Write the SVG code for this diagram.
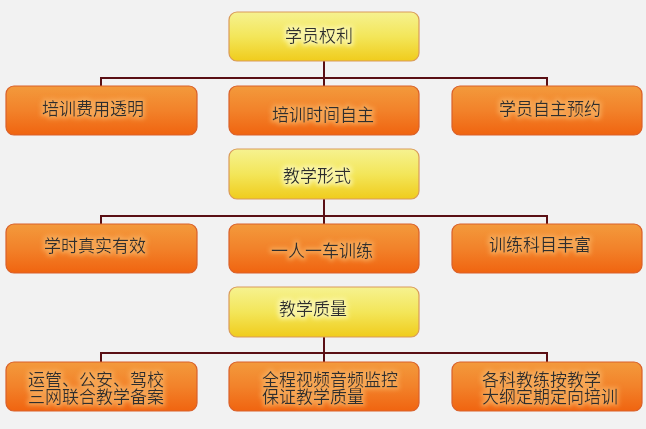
<svg xmlns="http://www.w3.org/2000/svg" width="646" height="429" viewBox="0 0 646 429">
<defs>
<linearGradient id="gy" x1="0" y1="0" x2="0" y2="1">
<stop offset="0" stop-color="#f6f290"/>
<stop offset="0.5" stop-color="#f3e65a"/>
<stop offset="1" stop-color="#f0cc1c"/>
</linearGradient>
<linearGradient id="go" x1="0" y1="0" x2="0" y2="1">
<stop offset="0" stop-color="#f39a3c"/>
<stop offset="0.5" stop-color="#f2822a"/>
<stop offset="1" stop-color="#f06410"/>
</linearGradient>
<filter id="glowY" x="-10%" y="-30%" width="120%" height="160%">
<feMorphology in="SourceAlpha" operator="dilate" radius="1.5" result="d"/>
<feGaussianBlur in="d" stdDeviation="2" result="b"/>
<feFlood flood-color="#fbf7b0" flood-opacity="0.9"/>
<feComposite in2="b" operator="in" result="g"/>
<feMerge><feMergeNode in="g"/><feMergeNode in="SourceGraphic"/></feMerge>
</filter>
<filter id="glowO" x="-10%" y="-30%" width="120%" height="160%">
<feMorphology in="SourceAlpha" operator="dilate" radius="1.5" result="d"/>
<feGaussianBlur in="d" stdDeviation="2" result="b"/>
<feFlood flood-color="#f8b060" flood-opacity="0.8"/>
<feComposite in2="b" operator="in" result="g"/>
<feMerge><feMergeNode in="g"/><feMergeNode in="SourceGraphic"/></feMerge>
</filter>
</defs>
<style>
.y{fill:url(#gy);stroke:#d99a5a;stroke-width:1.2}
.o{fill:url(#go);stroke:#d9602a;stroke-width:1.2}
text{font-family:"Noto Sans CJK SC","Noto Sans",sans-serif;font-size:17px;fill:#2e2e2e}
.ty{filter:url(#glowY)}
.to{filter:url(#glowO)}
.c{fill:none;stroke:#5a0f14;stroke-width:2}
</style>
<rect x="0" y="0" width="646" height="429" fill="#f2f2f2"/>
<g id="connectors">
<path class="c" d="M324 61V86M101 86V78H547V86"/>
<path class="c" d="M324 199V224M101 224V216H547V224"/>
<path class="c" d="M324 337V362M101 362V353H547V362"/>
</g>
<g id="n-xueyuanquanli"><rect class="y" x="229" y="12" width="190" height="49" rx="8"/><text class="ty" x="319" y="41.5" text-anchor="middle">学员权利</text></g>
<g id="n-feiyong"><rect class="o" x="6" y="86" width="191" height="49" rx="8"/><text class="to" x="93" y="114.5" text-anchor="middle">培训费用透明</text></g>
<g id="n-shijian"><rect class="o" x="229" y="86" width="190" height="49" rx="8"/><text class="to" x="323" y="120.5" text-anchor="middle">培训时间自主</text></g>
<g id="n-yuyue"><rect class="o" x="452" y="86" width="190" height="49" rx="8"/><text class="to" x="550" y="114.5" text-anchor="middle">学员自主预约</text></g>
<g id="n-jiaoxuexingshi"><rect class="y" x="229" y="149" width="190" height="50" rx="8"/><text class="ty" x="317" y="181.5" text-anchor="middle">教学形式</text></g>
<g id="n-xueshi"><rect class="o" x="6" y="224" width="191" height="49" rx="8"/><text class="to" x="95" y="251.5" text-anchor="middle">学时真实有效</text></g>
<g id="n-yiren"><rect class="o" x="229" y="224" width="190" height="49" rx="8"/><text class="to" x="322" y="256.5" text-anchor="middle">一人一车训练</text></g>
<g id="n-kemu"><rect class="o" x="452" y="224" width="190" height="49" rx="8"/><text class="to" x="540" y="250.5" text-anchor="middle">训练科目丰富</text></g>
<g id="n-jiaoxuezhiliang"><rect class="y" x="229" y="287" width="190" height="50" rx="8"/><text class="ty" x="313" y="314.5" text-anchor="middle">教学质量</text></g>
<g id="n-beian"><rect class="o" x="6" y="362" width="191" height="49" rx="8"/><text class="to" x="28" y="385.5"><tspan x="28">运管、公安、驾校</tspan><tspan x="28" dy="17">三网联合教学备案</tspan></text></g>
<g id="n-jiankong"><rect class="o" x="229" y="362" width="190" height="49" rx="8"/><text class="to" x="262" y="385.5"><tspan x="262">全程视频音频监控</tspan><tspan x="262" dy="17">保证教学质量</tspan></text></g>
<g id="n-peixun"><rect class="o" x="452" y="362" width="190" height="49" rx="8"/><text class="to" x="482" y="385.5"><tspan x="482">各科教练按教学</tspan><tspan x="482" dy="17">大纲定期定向培训</tspan></text></g>
</svg>
